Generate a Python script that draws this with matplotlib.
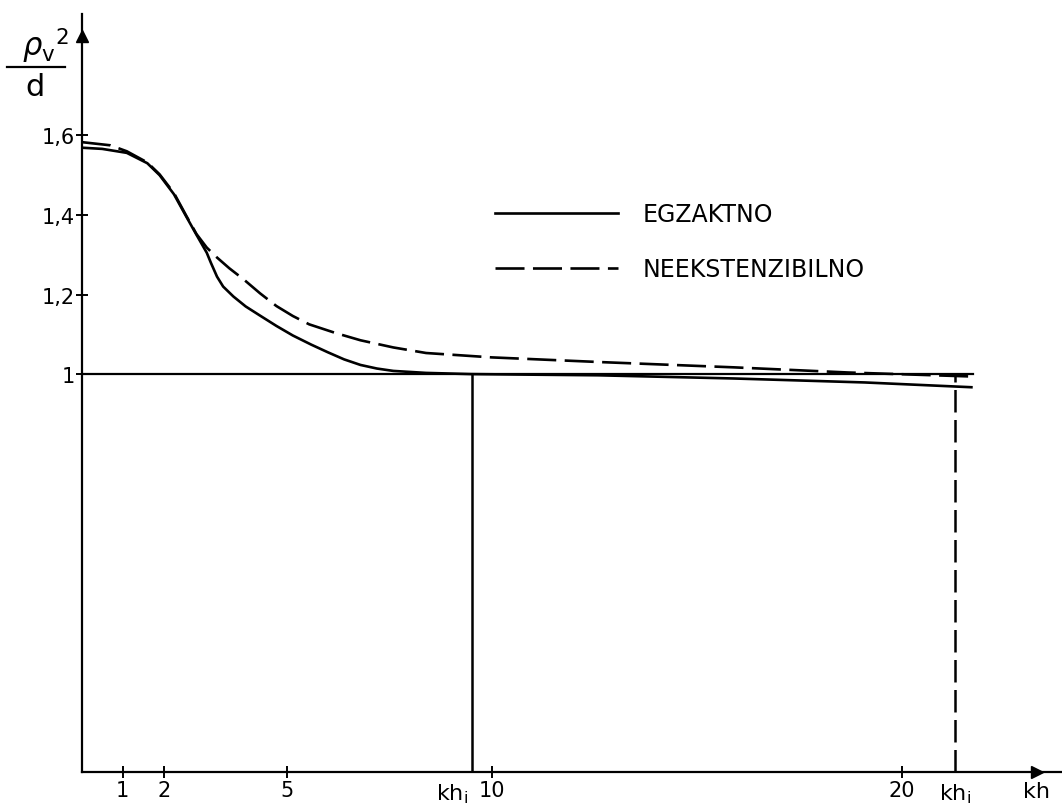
import matplotlib
matplotlib.use("Agg")
import matplotlib.pyplot as plt
from matplotlib.lines import Line2D

plt.rcParams['font.family'] = ['DejaVu Sans']
plt.rcParams['mathtext.fontset'] = 'dejavusans'

# ---- data ----
exact_kh = [0, 0.5, 1.1, 1.6, 1.9, 2.25, 2.55, 2.8, 3.05, 3.15, 3.3, 3.45,
            3.7, 4.0, 4.35, 4.75, 5.15, 5.6, 6.0, 6.4, 6.8, 7.2, 7.6, 8.4,
            9.5, 12.6, 15.9, 19.1, 21.7]
exact_v = [1.569, 1.566, 1.556, 1.530, 1.500, 1.452, 1.396, 1.350, 1.305,
           1.280, 1.245, 1.220, 1.195, 1.170, 1.147, 1.121, 1.097, 1.074,
           1.055, 1.037, 1.023, 1.014, 1.008, 1.003, 1.000, 0.997, 0.989,
           0.979, 0.967]

neek_kh = [0, 0.7, 1.1, 1.6, 1.9, 2.25, 2.55, 2.8, 3.05, 3.3, 3.6, 3.95,
           4.35, 4.75, 5.15, 5.55, 6.2, 6.8, 7.6, 8.4, 10.0, 12.7, 15.9,
           18.7, 21.7]
neek_v = [1.583, 1.575, 1.560, 1.532, 1.502, 1.455, 1.398, 1.352, 1.318,
          1.293, 1.266, 1.238, 1.203, 1.171, 1.146, 1.125, 1.103, 1.085,
          1.067, 1.053, 1.042, 1.030, 1.017, 1.004, 0.994]

kh_i_exact = 9.52
kh_i_neek = 21.3
ref_level = 1.0
ref_end = 21.75

x_ticks = [1, 2, 5, 10, 20]
x_ticklabels = ['1', '2', '5', '10', '20']
y_ticks = [1.0, 1.2, 1.4, 1.6]
y_ticklabels = ['1', '1,2', '1,4', '1,6']
legend_labels = ['EGZAKTNO', 'NEEKSTENZIBILNO']

# ---- figure ----
W, H = 1062, 804
fig = plt.figure(figsize=(W / 100, H / 100), dpi=100)
x0, x1, y0, y1 = 81.7, 1062, 773, 15
ax = fig.add_axes([x0 / W, 1 - y0 / H, (x1 - x0) / W, (y0 - y1) / H])
ax.set_xlim(0, (x1 - x0) / 41.0)
ax.set_ylim(0, (y0 - y1) / 397.9)

lw = 1.9
k = 'black'
l1, = ax.plot(exact_kh, exact_v, color=k, lw=lw, solid_joinstyle='round')
l2, = ax.plot(neek_kh, neek_v, color=k, lw=lw, dashes=(11, 3.2))

ax.plot([0, ref_end], [ref_level, ref_level], color=k, lw=1.6)
ax.plot([kh_i_exact, kh_i_exact], [0, ref_level], color=k, lw=1.8)
neek_end = neek_v[-1]
ax.plot([kh_i_neek, kh_i_neek], [0, neek_end], color=k, lw=1.8, dashes=(9, 3))

# axes
for s in ['top', 'right']:
    ax.spines[s].set_visible(False)
for s in ['left', 'bottom']:
    ax.spines[s].set_linewidth(1.6)
ax.plot([23.3], [0], marker='>', color=k, ms=9, clip_on=False)
ax.plot([0], [1.85], marker='^', color=k, ms=9, clip_on=False)

ax.set_xticks(x_ticks)
ax.set_xticklabels(x_ticklabels, fontsize=15)
ax.set_yticks(y_ticks)
ax.set_yticklabels(y_ticklabels, fontsize=15)
ax.tick_params(axis='both', direction='inout', length=8, width=1.4, pad=2)
ax.tick_params(axis='y', pad=1)

# extra axis labels
tr = ax.get_xaxis_transform()
ax.text(kh_i_exact - 0.1, -0.012, r'kh$_\mathregular{i}$', transform=tr,
        ha='right', va='top', fontsize=16)
ax.text(kh_i_neek, -0.012, r'kh$_\mathregular{i}$', transform=tr,
        ha='center', va='top', fontsize=16)
ax.text(23.3, -0.012, 'kh', transform=tr, ha='center', va='top', fontsize=16)

# y label as fraction
fig.text(22 / W, 1 - 56 / H, r'$\rho_\mathsf{v}{}^\mathsf{2}$', fontsize=22,
         ha='left', va='baseline')
fig.add_artist(Line2D([7 / W, 65 / W], [1 - 68 / H, 1 - 68 / H],
                      transform=fig.transFigure, color=k, lw=1.6))
fig.text(35 / W, 1 - 96 / H, 'd', fontsize=22, ha='center', va='baseline')

# legend
leg = ax.legend([l1, l2], legend_labels, loc='upper left',
                bbox_to_anchor=(495 / W, 1 - 203.5 / H),
                bbox_transform=fig.transFigure, frameon=False, fontsize=17,
                handlelength=5.2, handletextpad=1.06, labelspacing=1.29,
                borderpad=0, borderaxespad=0)

fig.savefig('out.png', dpi=100)
